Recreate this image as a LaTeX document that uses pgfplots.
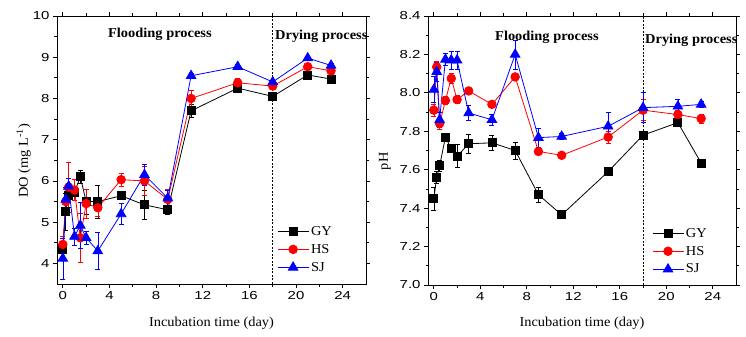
\documentclass[border=0pt]{standalone}
\usepackage{fontspec}
\setmainfont{Liberation Serif}[FakeStretch=1.06]
\newfontfamily\tickfont{Liberation Sans}[FakeStretch=1.29]
\usepackage{pgfplots}
\usepackage{pgfplotstable}
\pgfplotsset{compat=1.18}

\pgfplotstableread{
x y e
0 4.35 0.10
0.25 5.26 0.45
0.5 5.65 0.30
1 5.73 0.10
1.5 6.10 0.15
2 5.50 0.30
3 5.50 0.40
5 5.64 0.05
7 5.42 0.35
9 5.30 0.12
11 7.70 0.15
15 8.25 0.05
18 8.05 0.03
21 8.57 0.05
23 8.47 0.05
}\doGY
\pgfplotstableread{
x y e
0 4.46 0.20
0.25 5.50 0.30
0.5 5.85 0.60
1 5.78 0.25
1.5 4.62 0.60
2 5.45 0.35
3 5.35 0.20
5 6.03 0.15
7 6.00 0.35
9 5.55 0.25
11 8.00 0.20
15 8.38 0.10
18 8.30 0.05
21 8.77 0.05
23 8.67 0.08
}\doHS
\pgfplotstableread{
x y e
0 4.12 0.50
0.25 5.55 0.30
0.5 5.87 0.20
1 4.65 0.20
1.5 4.92 0.55
2 4.62 0.15
3 4.30 0.45
5 5.20 0.25
7 6.15 0.25
9 5.58 0.20
11 8.55 0.05
15 8.77 0.05
18 8.40 0.05
21 8.98 0.05
23 8.80 0.05
}\doSJ
\pgfplotstableread{
x y e
0 7.450 0.060
0.25 7.560 0.030
0.5 7.620 0.030
1 7.770 0.020
1.5 7.710 0.020
2 7.670 0.060
3 7.735 0.050
5 7.740 0.040
7 7.700 0.045
9 7.470 0.040
11 7.365 0.010
15 7.590 0.010
18 7.780 0.010
21 7.845 0.020
23 7.635 0.020
}\phGY
\pgfplotstableread{
x y e
0 7.910 0.030
0.25 8.135 0.030
0.5 7.840 0.030
1 7.960 0.020
1.5 8.075 0.025
2 7.965 0.020
3 8.010 0.010
5 7.940 0.010
7 8.083 0.010
9 7.695 0.010
11 7.675 0.010
15 7.770 0.030
18 7.910 0.055
21 7.887 0.020
23 7.866 0.025
}\phHS
\pgfplotstableread{
x y e
0 8.017 0.067
0.25 8.110 0.050
0.5 7.860 0.040
1 8.174 0.030
1.5 8.170 0.045
2 8.170 0.045
3 7.895 0.040
5 7.860 0.030
7 8.200 0.075
9 7.767 0.050
11 7.773 0.015
15 7.826 0.075
18 7.923 0.078
21 7.930 0.035
23 7.940 0.015
}\phSJ

\pgfplotsset{
  legend image code/.code={
    \draw[#1, mark=none] (0bp,0bp) -- (31bp,0bp);
    \draw[#1, only marks] plot coordinates {(15.5bp,0bp)};
  },
  myaxis/.style={
    scale only axis, width=309bp, height=268bp,
    xmin=-0.5, xmax=26, xtick={0,4,...,24}, minor x tick num=1,
    tick align=outside, major tick length=4bp, minor tick length=2.5bp,
    axis line style={line width=0.8bp},
    every tick/.style={line width=0.8bp, black},
    tick label style={font=\tickfont\fontsize{11.6bp}{12bp}\selectfont},
    /pgf/number format/assume math mode=true,
    label style={font=\fontsize{13.6bp}{15bp}\selectfont},
    xlabel={Incubation time (day)},
    legend style={draw=none, fill=none, inner sep=0pt,
      font=\fontsize{13.6bp}{15bp}\selectfont, row sep=3.5bp,
      legend cell align=left},
    error bars/error bar style={line width=0.6bp, solid},
    error bars/error mark options={rotate=90, mark size=2.5bp, line width=0.6bp},
  },
  gy/.style={black, line width=0.8bp, mark=square*, mark size=4bp,
    error bars/.cd, y dir=both, y explicit},
  hs/.style={red, line width=0.8bp, mark=*, mark size=4.3bp,
    error bars/.cd, y dir=both, y explicit},
  sj/.style={blue, line width=0.8bp, mark=triangle*, mark size=5.5bp,
    error bars/.cd, y dir=both, y explicit},
}

\begin{document}
\begin{tikzpicture}
\begin{axis}[myaxis, at={(57bp,53bp)}, anchor=south west,
  ymin=3.5, ymax=10, ytick={4,5,...,10}, minor y tick num=1,
  ylabel={DO (mg L\textsuperscript{-1})},
  ylabel style={at={(axis description cs:-0.094,0.46)}, anchor=base, rotate=0},
  xlabel style={at={(axis description cs:0.5,-0.159)}, anchor=base},
  legend style={at={(axis description cs:0.712,0.224)}, anchor=north west},
]
\addplot[black, line width=0.8bp, dash pattern=on 2bp off 1.5bp, forget plot] coordinates {(18,3.5) (18,10)};
\addplot[gy] table[x=x, y=y, y error=e] {\doGY};
\addplot[hs] table[x=x, y=y, y error=e] {\doHS};
\addplot[sj] table[x=x, y=y, y error=e] {\doSJ};
\legend{GY,HS,SJ}
\node[anchor=base west, font=\bfseries\fontsize{13.6bp}{15bp}\selectfont, inner sep=0pt] at (axis description cs:0.165,0.9205) {Flooding process};
\node[anchor=base west, font=\bfseries\fontsize{13.6bp}{15bp}\selectfont, inner sep=0pt] at (axis description cs:0.7055,0.913) {Drying process};
\end{axis}

\begin{axis}[myaxis, at={(428bp,52bp)}, anchor=south west, width=308bp, height=269bp,
  ymin=7.0, ymax=8.4, ytick={7.0,7.2,...,8.41}, minor y tick num=1,
  yticklabel style={/pgf/number format/.cd, fixed, fixed zerofill, precision=1},
  ylabel={pH},
  ylabel style={at={(axis description cs:-0.13,0.46)}, anchor=base},
  xlabel style={at={(axis description cs:0.5,-0.155)}, anchor=base},
  legend style={at={(axis description cs:0.727,0.22)}, anchor=north west},
]
\addplot[black, line width=0.8bp, dash pattern=on 2bp off 1.5bp, forget plot] coordinates {(18,7.0) (18,8.4)};
\addplot[gy] table[x=x, y=y, y error=e] {\phGY};
\addplot[hs] table[x=x, y=y, y error=e] {\phHS};
\addplot[sj] table[x=x, y=y, y error=e] {\phSJ};
\legend{GY,HS,SJ}
\node[anchor=base west, font=\bfseries\fontsize{13.6bp}{15bp}\selectfont, inner sep=0pt] at (axis description cs:0.2175,0.908) {Flooding process};
\node[anchor=base west, font=\bfseries\fontsize{13.6bp}{15bp}\selectfont, inner sep=0pt] at (axis description cs:0.7045,0.8985) {Drying process};
\end{axis}
\pgfresetboundingbox
\path (0bp,0bp) rectangle (746bp,337bp);
\end{tikzpicture}
\end{document}
